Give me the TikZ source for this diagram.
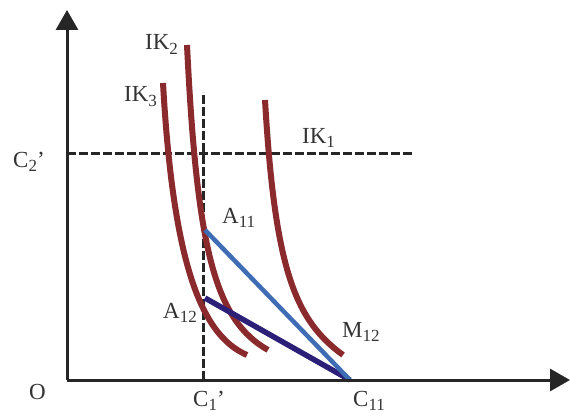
\documentclass[tikz,border=0pt]{standalone}
\usepackage{fontspec}
\setmainfont{Liberation Serif}
\usetikzlibrary{arrows.meta}
\newcommand\lowsub[1]{\raisebox{-4.5pt}{\fontsize{17}{17}\selectfont #1}}
\definecolor{curvered}{HTML}{8A2A2C}
\definecolor{lineblue}{HTML}{3F6DB5}
\definecolor{navyline}{HTML}{2B1F78}
\tikzset{
  axisline/.style={line width=3pt, draw=black!85, -{Triangle[length=20pt,width=22pt]}},
  guideline/.style={line width=3pt, draw=black!85, dash pattern=on 9pt off 3pt},
  indiff/.style={line width=6pt, draw=curvered},
  budgetA/.style={line width=4.5pt, draw=lineblue},
  budgetB/.style={line width=5.5pt, draw=navyline},
  lbl/.style={font=\fontsize{23}{23}\selectfont, text=black!80, inner sep=0pt, anchor=base west}
}
\begin{document}
\begin{tikzpicture}[x=1pt,y=-1pt]
\useasboundingbox (0,0) rectangle (570,417);
\coordinate (O) at (67,380);
\coordinate (Ytop) at (67,10);
\coordinate (Xend) at (570,380);
\coordinate (C1p) at (203,380);
\coordinate (C1top) at (203,92);
\coordinate (C2p) at (67,153);
\coordinate (C2end) at (412,153);
\coordinate (A11) at (205,230);
\coordinate (A12) at (205,298);
\coordinate (C11) at (350,380);
% guides
\draw[guideline] (C1p) -- (C1top);
\draw[guideline] (C2p) -- (C2end);
% indifference curves
\draw[indiff] (163,83) .. controls (173,260) and (200,335) .. (247,355);
\draw[indiff] (187,45) .. controls (197,250) and (215,320) .. (268,350);
\draw[indiff] (265,100) .. controls (275,270) and (295,320) .. (343,355);
% budget lines
\draw[budgetB] (A12) -- (C11);
\draw[budgetA] (A11) -- (C11);
% axes
\draw[axisline] (O) -- (Ytop);
\draw[axisline] (O) -- (Xend);
% labels
\node[lbl] (lIK2) at (145,50) {IK\lowsub{2}};
\node[lbl] (lIK3) at (124,102) {IK\lowsub{3}};
\node[lbl] (lIK1) at (302,143) {IK\lowsub{1}};
\node[lbl] (lC2) at (13,167) {C\lowsub{2}'};
\node[lbl] (lA11) at (222,223) {A\lowsub{11}};
\node[lbl] (lA12) at (163,318) {A\lowsub{12}};
\node[lbl] (lM12) at (342,337) {M\lowsub{12}};
\node[lbl] (lO) at (29,399) {O};
\node[lbl] (lC1) at (193,406) {C\lowsub{1}'};
\node[lbl] (lC11) at (353,406) {C\lowsub{11}};
\end{tikzpicture}
\end{document}
